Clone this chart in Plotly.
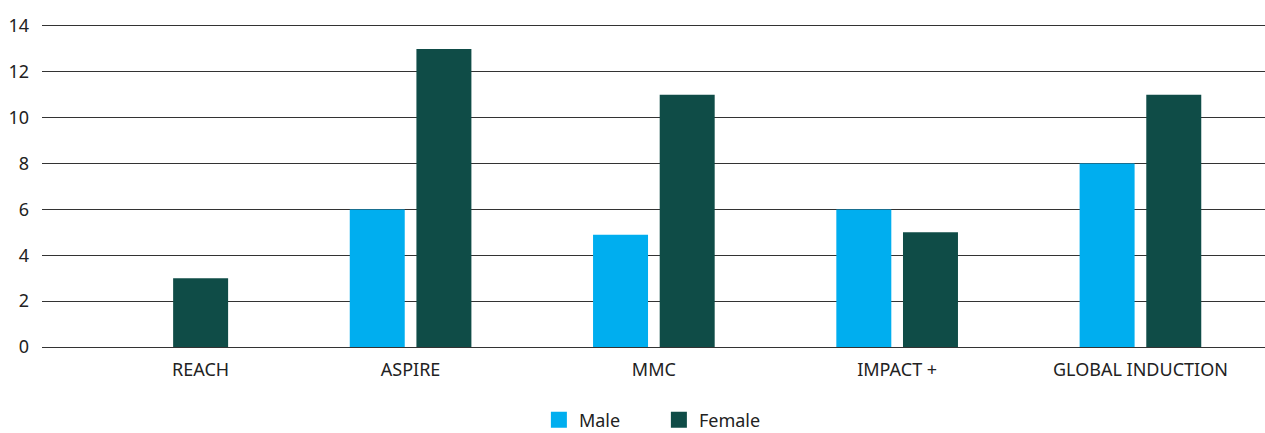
import plotly.graph_objects as go

categories = ["REACH", "ASPIRE", "MMC", "IMPACT +", "GLOBAL INDUCTION"]
male = [None, 6, 4.9, 6, 8]
female = [3, 13, 11, 5, 11]
y_ticks = [0, 2, 4, 6, 8, 10, 12, 14]
colors = {"Male": "#00AEEF", "Female": "#0F4C47"}

pos = list(range(len(categories)))
bar_w = 0.226
off = 0.137
# label sits under the only bar when a series is missing
tick_pos = [p + off if m is None else p for p, m in zip(pos, male)]

fig = go.Figure()
fig.add_trace(go.Bar(name="Male", x=[p - off for p in pos], y=male, width=bar_w,
                     marker=dict(color=colors["Male"], line=dict(width=0)),
                     showlegend=False))
fig.add_trace(go.Bar(name="Female", x=[p + off for p in pos], y=female, width=bar_w,
                     marker=dict(color=colors["Female"], line=dict(width=0)),
                     showlegend=False))
# legend entries with larger square swatches
for name in ["Male", "Female"]:
    fig.add_trace(go.Scatter(name=name, x=[None], y=[None], mode="markers",
                             marker=dict(symbol="square", size=18, color=colors[name])))

fig.update_layout(
    width=1265, height=433,
    margin=dict(l=42, r=0, t=26, b=86, autoexpand=False),
    plot_bgcolor="white", paper_bgcolor="white",
    barmode="overlay",
    font=dict(family="Noto Sans, Open Sans, sans-serif", size=18, color="#222"),
    xaxis=dict(range=[-0.515, 4.512], tickmode="array",
               tickvals=tick_pos, ticktext=categories, showgrid=False,
               zeroline=False, showline=True, mirror=True, linecolor="#333",
               linewidth=1, ticks="", ticklabelstandoff=6, automargin=False),
    yaxis=dict(range=[0, 14], tickmode="array", tickvals=y_ticks,
               showgrid=True, gridcolor="#333", gridwidth=1, zeroline=False,
               showline=False, ticks="", ticklabelstandoff=12, automargin=False),
    legend=dict(orientation="h", x=0.426, xanchor="left", xref="container",
                y=0.03, yanchor="middle", yref="container",
                font=dict(size=18), itemwidth=30, traceorder="normal",
                entrywidth=75),
    showlegend=True,
)
fig.write_html("out.html")
